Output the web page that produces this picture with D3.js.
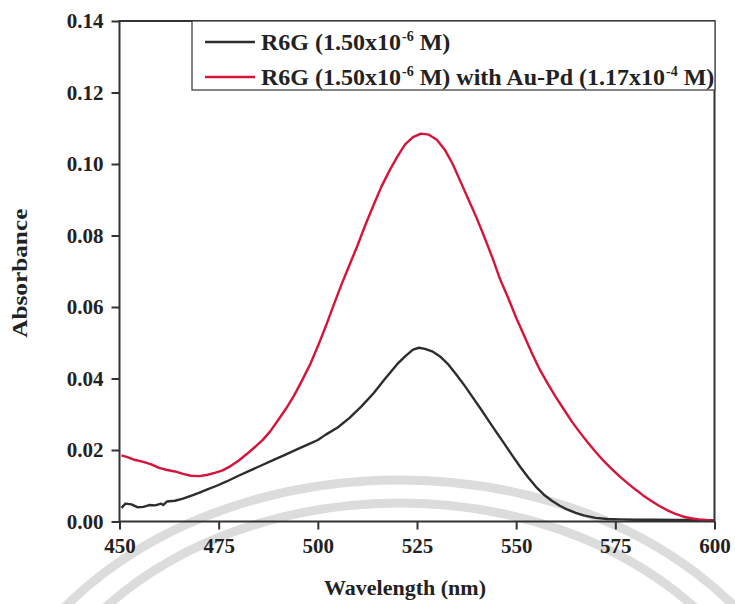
<!DOCTYPE html>
<html>
<head>
<meta charset="utf-8">
<script src="https://cdn.jsdelivr.net/npm/d3@7.9.0/dist/d3.min.js"></script>
<style>
  body { margin: 0; background: #fff; }
  svg { display: block; font-family: "Liberation Serif", "Times New Roman", serif; font-weight: bold; }
</style>
</head>
<body>
<svg id="chart" width="735" height="604"></svg>
<script>
// R6G alone (wavelength nm, absorbance)
const wlR6G = [450.5, 451.5, 453, 454.5, 456, 457.5, 459, 460.5, 461, 462, 464, 466, 468, 470, 472, 474.5, 477, 480, 483, 486, 489, 492, 495, 498, 500, 502, 505, 508, 511, 514, 517, 520, 522, 524, 525.5, 527, 529, 531, 533, 535, 537, 539, 541, 543, 545, 547, 549, 551, 553, 555, 557, 559, 561, 563, 565, 567, 570, 573, 576, 580, 585, 590, 595, 600];
const absR6G = [0.0038, 0.0050, 0.0048, 0.0040, 0.0041, 0.0046, 0.0045, 0.0050, 0.0046, 0.0056, 0.0058, 0.0064, 0.0072, 0.0080, 0.0089, 0.0100, 0.0112, 0.0128, 0.0143, 0.0158, 0.0173, 0.0188, 0.0203, 0.0218, 0.0228, 0.0243, 0.0263, 0.0290, 0.0322, 0.0358, 0.0400, 0.0440, 0.0462, 0.0481, 0.0486, 0.0483, 0.0475, 0.0460, 0.0438, 0.0410, 0.0380, 0.0348, 0.0316, 0.0283, 0.0250, 0.0218, 0.0185, 0.0153, 0.0124, 0.0097, 0.0075, 0.0058, 0.0044, 0.0033, 0.0024, 0.0017, 0.0010, 0.0007, 0.0006, 0.0005, 0.0005, 0.0004, 0.0004, 0.0003];

// R6G with Au-Pd
const wlAuPd = [450.5, 452, 454, 456, 458, 460, 462, 464, 466, 468, 470, 472, 474, 476, 478, 480, 482, 484, 486, 488, 490, 492, 494, 496, 498, 500, 502, 504, 506, 508, 510, 512, 514, 516, 518, 520, 522, 524, 526, 528, 530, 532, 534, 536, 538, 540, 542, 544, 546, 548, 550, 552, 554, 556, 558, 560, 562, 564, 566, 568, 570, 572, 574, 576, 578, 580, 582, 584, 586, 588, 590, 592, 594, 596, 598, 600];
const absAuPd = [0.0185, 0.0180, 0.0172, 0.0167, 0.0160, 0.0150, 0.0144, 0.0140, 0.0133, 0.0128, 0.0127, 0.0130, 0.0136, 0.0143, 0.0155, 0.0170, 0.0188, 0.0207, 0.0227, 0.0252, 0.0284, 0.0316, 0.0352, 0.0394, 0.0438, 0.0490, 0.0546, 0.0606, 0.0664, 0.0718, 0.0772, 0.0830, 0.0884, 0.0936, 0.0980, 0.1020, 0.1055, 0.1075, 0.1085, 0.1082, 0.1068, 0.1040, 0.1000, 0.0950, 0.0900, 0.0850, 0.0795, 0.0738, 0.0676, 0.0625, 0.0570, 0.0520, 0.0470, 0.0424, 0.0385, 0.0348, 0.0314, 0.0280, 0.0250, 0.0222, 0.0195, 0.0170, 0.0148, 0.0127, 0.0108, 0.0090, 0.0073, 0.0058, 0.0044, 0.0032, 0.0022, 0.0014, 0.0009, 0.0006, 0.0004, 0.0003];

const xTicks = [450, 475, 500, 525, 550, 575, 600];
const yTicks = [0, 0.02, 0.04, 0.06, 0.08, 0.10, 0.12, 0.14];

const series = [
  { name: "R6G", wl: wlR6G, abs: absR6G, color: "#2d2d2d" },
  { name: "R6G+AuPd", wl: wlAuPd, abs: absAuPd, color: "#d6143a" }
];

const svg = d3.select("#chart");
const margin = { left: 119.5, right: 20.5, top: 21, bottom: 82.5 };
const W = 735, H = 604;
const serif = "Liberation Serif, Times New Roman, serif";

const x = d3.scaleLinear().domain([450, 600]).range([margin.left, W - margin.right]);
const y = d3.scaleLinear().domain([0, 0.14]).range([H - margin.bottom, margin.top]);

// faint watermark arcs
const wm = svg.append("g").attr("fill", "none").attr("stroke", "#dcdcdc").attr("stroke-width", 9);
wm.append("ellipse").attr("cx", 400).attr("cy", 800).attr("rx", 420).attr("ry", 320);
wm.append("ellipse").attr("cx", 400).attr("cy", 800).attr("rx", 387).attr("ry", 297);

const axisColor = "#333";

function styleAxis(g) {
  g.attr("font-family", null).attr("font-size", null);
  g.select(".domain").remove();
  g.selectAll("line").attr("stroke", axisColor).attr("stroke-width", 2);
  g.selectAll("text")
    .attr("fill", "#222")
    .style("font-family", serif)
    .style("font-weight", "bold")
    .style("font-size", "21px");
}

// x axis
svg.append("g")
  .attr("transform", `translate(0,${y(0)})`)
  .call(d3.axisBottom(x).tickValues(xTicks).tickSize(8).tickPadding(9).tickFormat(d3.format("d")))
  .call(styleAxis);

// y axis
svg.append("g")
  .attr("transform", `translate(${x(450)},0)`)
  .call(d3.axisLeft(y).tickValues(yTicks).tickSize(8).tickPadding(8).tickFormat(d3.format(".2f")))
  .call(styleAxis);

// curves
const line = d3.line().x(d => x(d[0])).y(d => y(d[1])).curve(d3.curveLinear);
series.forEach(s => {
  svg.append("path")
    .datum(d3.zip(s.wl, s.abs))
    .attr("fill", "none")
    .attr("stroke", s.color)
    .attr("stroke-width", 2.4)
    .attr("stroke-linejoin", "round")
    .attr("d", line);
});

// frame
svg.append("rect")
  .attr("x", x(450)).attr("y", y(0.14))
  .attr("width", x(600) - x(450)).attr("height", y(0) - y(0.14))
  .attr("fill", "none").attr("stroke", axisColor).attr("stroke-width", 2);

// legend
const lg = svg.append("g");
lg.append("rect")
  .attr("x", 192).attr("y", y(0.14))
  .attr("width", 523).attr("height", 69)
  .attr("fill", "#fff").attr("stroke", "#444").attr("stroke-width", 1.3);

const legendRows = [
  { color: series[0].color, parts: ["R6G (1.50x10", "-6", " M)"] },
  { color: series[1].color, parts: ["R6G (1.50x10", "-6", " M) with Au-Pd (1.17x10", "-4", " M)"] }
];
legendRows.forEach((r, i) => {
  const ly = 42 + i * 35;
  lg.append("line").attr("x1", 205).attr("x2", 255).attr("y1", ly).attr("y2", ly)
    .attr("stroke", r.color).attr("stroke-width", 2.6);
  const t = lg.append("text").attr("x", 261).attr("y", ly + 8).attr("font-size", 24).attr("fill", "#222");
  r.parts.forEach((p, k) => {
    if (k % 2 === 1) {
      t.append("tspan").attr("dy", -9).attr("font-size", 14).attr("dx", 1).text(p);
    } else {
      t.append("tspan").attr("dy", k === 0 ? 0 : 9).text(p);
    }
  });
});

// axis titles
svg.append("text")
  .attr("x", 405).attr("y", 595)
  .attr("text-anchor", "middle").attr("font-size", 22).attr("fill", "#222")
  .text("Wavelength (nm)");

svg.append("text")
  .attr("transform", `translate(27,${y(0.07) + 2}) rotate(-90) scale(1.15,1)`)
  .attr("text-anchor", "middle").attr("font-size", 22).attr("fill", "#222")
  .text("Absorbance");
</script>
</body>
</html>
